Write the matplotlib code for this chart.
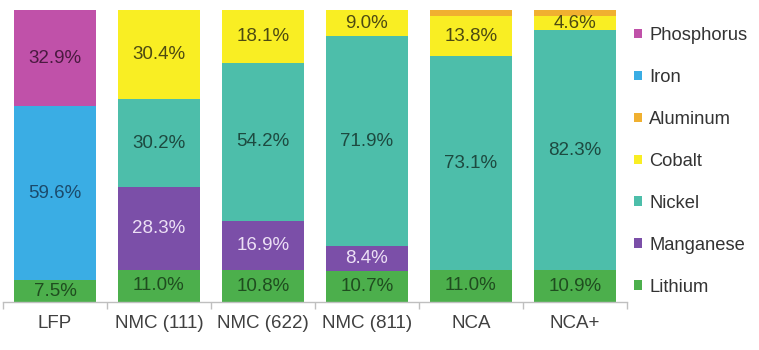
import matplotlib
matplotlib.use("Agg")
import matplotlib.pyplot as plt
import numpy as np
from matplotlib.patches import Patch

categories = ["LFP", "NMC (111)", "NMC (622)", "NMC (811)", "NCA", "NCA+"]
# stacking order bottom -> top
lithium    = [7.5, 11.0, 10.8, 10.7, 11.0, 10.9]
manganese  = [0.0, 28.3, 16.9, 8.4, 0.0, 0.0]
nickel     = [0.0, 30.2, 54.2, 71.9, 73.1, 82.3]
cobalt     = [0.0, 30.4, 18.1, 9.0, 13.8, 4.6]
aluminum   = [0.0, 0.0, 0.0, 0.0, 2.1, 2.2]
iron       = [59.6, 0.0, 0.0, 0.0, 0.0, 0.0]
phosphorus = [32.9, 0.0, 0.0, 0.0, 0.0, 0.0]

series = [
    ("Lithium", lithium, "#4CAF4C", "#1f4d1f", True),
    ("Manganese", manganese, "#7B4FA8", "#ecdff5", True),
    ("Nickel", nickel, "#4DBEAA", "#1d4a40", True),
    ("Cobalt", cobalt, "#F9EE23", "#4d4a12", True),
    ("Aluminum", aluminum, "#F0B030", "#333333", False),
    ("Iron", iron, "#3AADE4", "#1b4a6b", True),
    ("Phosphorus", phosphorus, "#C051A9", "#4a1a40", True),
]

plt.rcParams['font.family'] = ['Liberation Sans', 'DejaVu Sans']

fig = plt.figure(figsize=(7.59, 3.5), dpi=100)
ax = fig.add_axes([3/759, 48/350, 624/759, 292/350])

x = np.arange(len(categories))
bottom = np.zeros(len(categories))
for name, vals, color, tcolor, lab in series:
    vals = np.array(vals)
    ax.bar(x, vals, width=0.78, bottom=bottom, color=color, edgecolor='none', label=name)
    if lab:
        for xi, v, b in zip(x, vals, bottom):
            if v > 0:
                ax.text(xi, b + v / 2, f"{v:.1f}%", ha='center', va='center',
                        fontsize=13.5, color=tcolor)
    bottom += vals

ax.set_xlim(-0.5, len(categories) - 0.5)
ax.set_ylim(0, 100)
for s in ['top', 'right', 'left']:
    ax.spines[s].set_visible(False)
ax.spines['bottom'].set_color('#bfbfbf')
ax.spines['bottom'].set_linewidth(1.0)
ax.set_yticks([])
ax.set_xticks(np.arange(-0.5, len(categories), 1.0))
ax.set_xticklabels([])
ax.set_xticks(x, minor=True)
ax.set_xticklabels(categories, minor=True, fontsize=13.5, color='#404040')
ax.tick_params(axis='x', which='major', length=5, color='#bfbfbf', width=1)
ax.tick_params(axis='x', which='minor', length=0, pad=9)

handles = [Patch(facecolor=c, edgecolor='none', label=n) for n, _, c, _, _ in series][::-1]
leg = fig.legend(handles=handles, loc='upper left', bbox_to_anchor=(634/759, 1 - 27/350),
                 frameon=False, fontsize=13.2, handlelength=0.42, handleheight=0.42,
                 handletextpad=0.4, labelspacing=1.36, borderaxespad=0, borderpad=0)
for t in leg.get_texts():
    t.set_color('#333333')

fig.savefig("out.png", dpi=100)
